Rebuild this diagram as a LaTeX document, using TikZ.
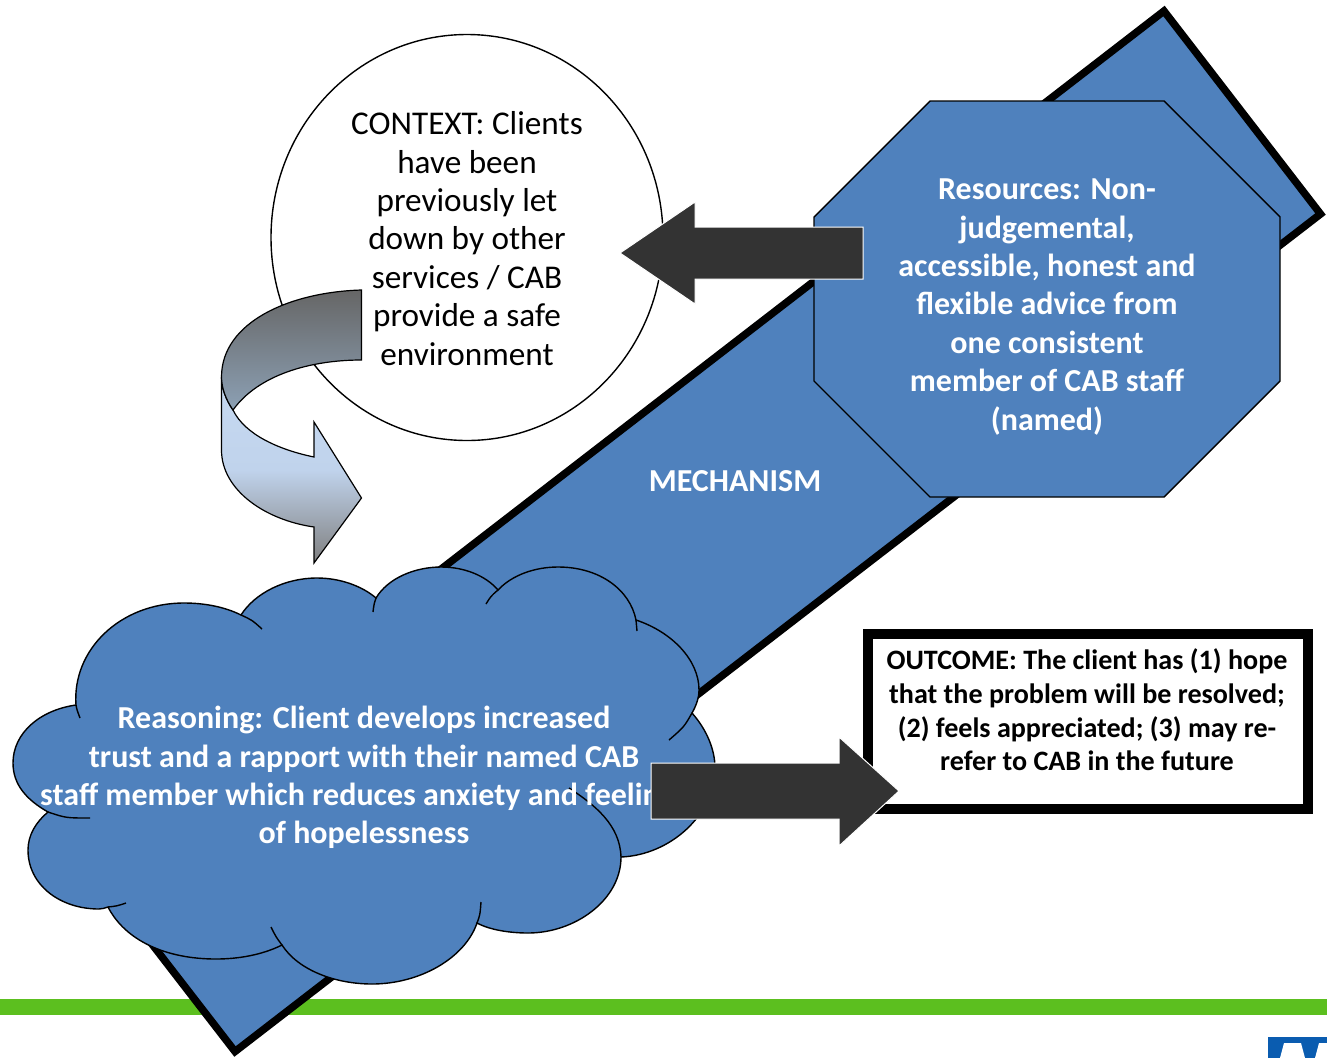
\documentclass[tikz,border=0pt]{standalone}
\usepackage{fontspec}
\setmainfont{Carlito}
\usepackage{tikz}
\definecolor{boxblue}{HTML}{4F81BD}
\definecolor{barkarrow}{HTML}{333333}
\definecolor{bargreen}{HTML}{5CBF1F}
\definecolor{logoblue}{HTML}{0A5CB0}
\definecolor{paleblue}{HTML}{C6D9F1}
\definecolor{midblue}{HTML}{C0D3EC}
\definecolor{steelgrey}{HTML}{8CA0B4}

\begin{document}
\begin{tikzpicture}[x=1pt,y=-1pt,
      every node/.append style={inner sep=0pt,align=center},
      bigtext/.style={font=\fontsize{33.2}{38.4}\selectfont},
      smalltext/.style={font=\fontsize{28.1}{33.7}\selectfont\bfseries}]
    \tikzstyle{whiteword} = [font=\fontsize{32}{38.4}\selectfont\bfseries,color=white]
    \tikzstyle{blockarrow} = [fill=barkarrow,draw=white,line width=1pt]
    \tikzstyle{thinline} = [draw=black,line width=1.4pt]
    \tikzstyle{cloudtail} = [draw=black,line width=1.4pt]
    \useasboundingbox (0,0) rectangle (1327,1058);
    \fill[white] (0,0) rectangle (1327,1058);
    \fill[bargreen] (0,999) rectangle (1327,1015);
    % logo at the corner
    \fill[logoblue] (1268,1037) rectangle (1327,1058);
    \fill[white] (1284,1043) -- (1301,1043) -- (1305,1058) -- (1280,1058) -- cycle;
    \fill[white] (1319,1043) -- (1327,1043) -- (1327,1058) -- (1315,1058) -- cycle;
    % the long box behind
    \draw[fill=boxblue,line width=7.5pt,miter limit=10]
      (1164,11) -- (1320.5,214) -- (235,1051.5) -- (78.5,849) -- cycle;
    \node (mechanism) [whiteword] at (735,481) {MECHANISM};
    % resources
    \path[fill=boxblue,thinline] (930,101) -- (1164,101) -- (1280,217) -- (1280,381)
      -- (1164,497) -- (930,497) -- (814,381) -- (814,217) -- cycle;
    \node (resources) [whiteword] at (1047,307) {Resources: Non-\\judgemental,\\accessible, honest and\\flexible advice from\\one consistent\\member of CAB staff\\(named)};
    % context
    \draw[fill=white,thinline] (467,237.5) ellipse (196 and 203);
    \node (context) [bigtext] at (467,238.5) {CONTEXT: Clients\\have been\\previously let\\down by other\\services / CAB\\provide a safe\\environment};
    \draw[blockarrow] (863,227) -- (695,227) -- (695,202) -- (620,253) -- (695,304) -- (695,279) -- (863,279) -- cycle;
    % curved arrow, lower band then upper band
    \path[draw=black,line width=1.2pt,top color=paleblue,bottom color=gray,middle color=midblue]
      (221.5,377) -- (221.5,450) .. controls (221.5,490) and (265,520) .. (314,527)
      -- (314,563) -- (361.5,498) -- (314,422) -- (314,457)
      .. controls (280,450) and (245,435) .. (233,410)
      .. controls (226,400) and (221.5,388) .. (221.5,377) -- cycle;
    \path[draw=black,line width=1.2pt,top color=black!60,bottom color=steelgrey]
      (361.5,290) .. controls (290,292) and (221.5,322) .. (221.5,377)
      .. controls (221.5,388) and (226,400) .. (233,410)
      .. controls (258,375) and (310,360) .. (361.5,360) -- cycle;
    % cloud
    \path[fill=boxblue,thinline]
      (76,705) .. controls (72,650) and (120,603) .. (184,603) .. controls (205,603) and (225,607) .. (241,615)
      .. controls (255,593) and (285,578) .. (317,578) .. controls (340,578) and (362,586) .. (376,598)
      .. controls (388,578) and (415,567) .. (441,567) .. controls (465,567) and (486,576) .. (498,590)
      .. controls (512,575) and (535,567) .. (558,567) .. controls (600,567) and (630,590) .. (636,620)
      .. controls (672,632) and (699,660) .. (699,690) .. controls (699,698) and (696,706) .. (692,713)
      .. controls (707,730) and (715,750) .. (715,768) .. controls (715,815) and (670,855) .. (621,857)
      .. controls (621,900) and (575,933) .. (528,933) .. controls (510,933) and (490,930) .. (477,923)
      .. controls (465,958) and (420,984) .. (372,984) .. controls (335,984) and (298,970) .. (282,945)
      .. controls (262,955) and (238,959) .. (216,959) .. controls (165,959) and (125,940) .. (108,907)
      .. controls (105,908) and (102,909) .. (99,909) .. controls (60,909) and (28,885) .. (28,850)
      .. controls (28,835) and (36,822) .. (48,812)
      .. controls (27,800) and (13,785) .. (13,763) .. controls (13,733) and (40,710) .. (76,705) -- cycle;
    \draw[cloudtail] (76,705) .. controls (77,710) .. (80,718);
    \draw[cloudtail] (241,615) .. controls (252,620) .. (262,629);
    \draw[cloudtail] (376,598) .. controls (374,604) .. (373,612);
    \draw[cloudtail] (498,590) .. controls (491,596) .. (486,604);
    \draw[cloudtail] (636,620) .. controls (637,625) .. (637,631);
    \draw[cloudtail] (692,713) .. controls (684,727) .. (669,740);
    \draw[cloudtail] (621,857) .. controls (620,825) and (595,805) .. (569,788);
    \draw[cloudtail] (477,923) .. controls (480,915) .. (481,902);
    \draw[cloudtail] (282,945) .. controls (276,937) .. (271,927);
    \draw[cloudtail] (108,907) .. controls (117,906) .. (126,903);
    \draw[cloudtail] (48,812) .. controls (66,818) .. (90,818);
    \node (reasoning) [whiteword] at (364,777.5) {Reasoning: Client develops increased\\trust and a rapport with their named CAB\\staff member which reduces anxiety and feelings\\of hopelessness};
    % outcome
    \draw[fill=white,line width=10pt] (868,633.5) rectangle (1308,809);
    \node (outcome) [smalltext] at (1087,710) {OUTCOME: The client has (1) hope\\that the problem will be resolved;\\(2) feels appreciated; (3) may re-\\refer to CAB in the future};
    \draw[blockarrow] (651,763) -- (839,763) -- (839,737) -- (899,791) -- (839,846) -- (839,819) -- (651,819) -- cycle;
  \end{tikzpicture}
\end{document}
